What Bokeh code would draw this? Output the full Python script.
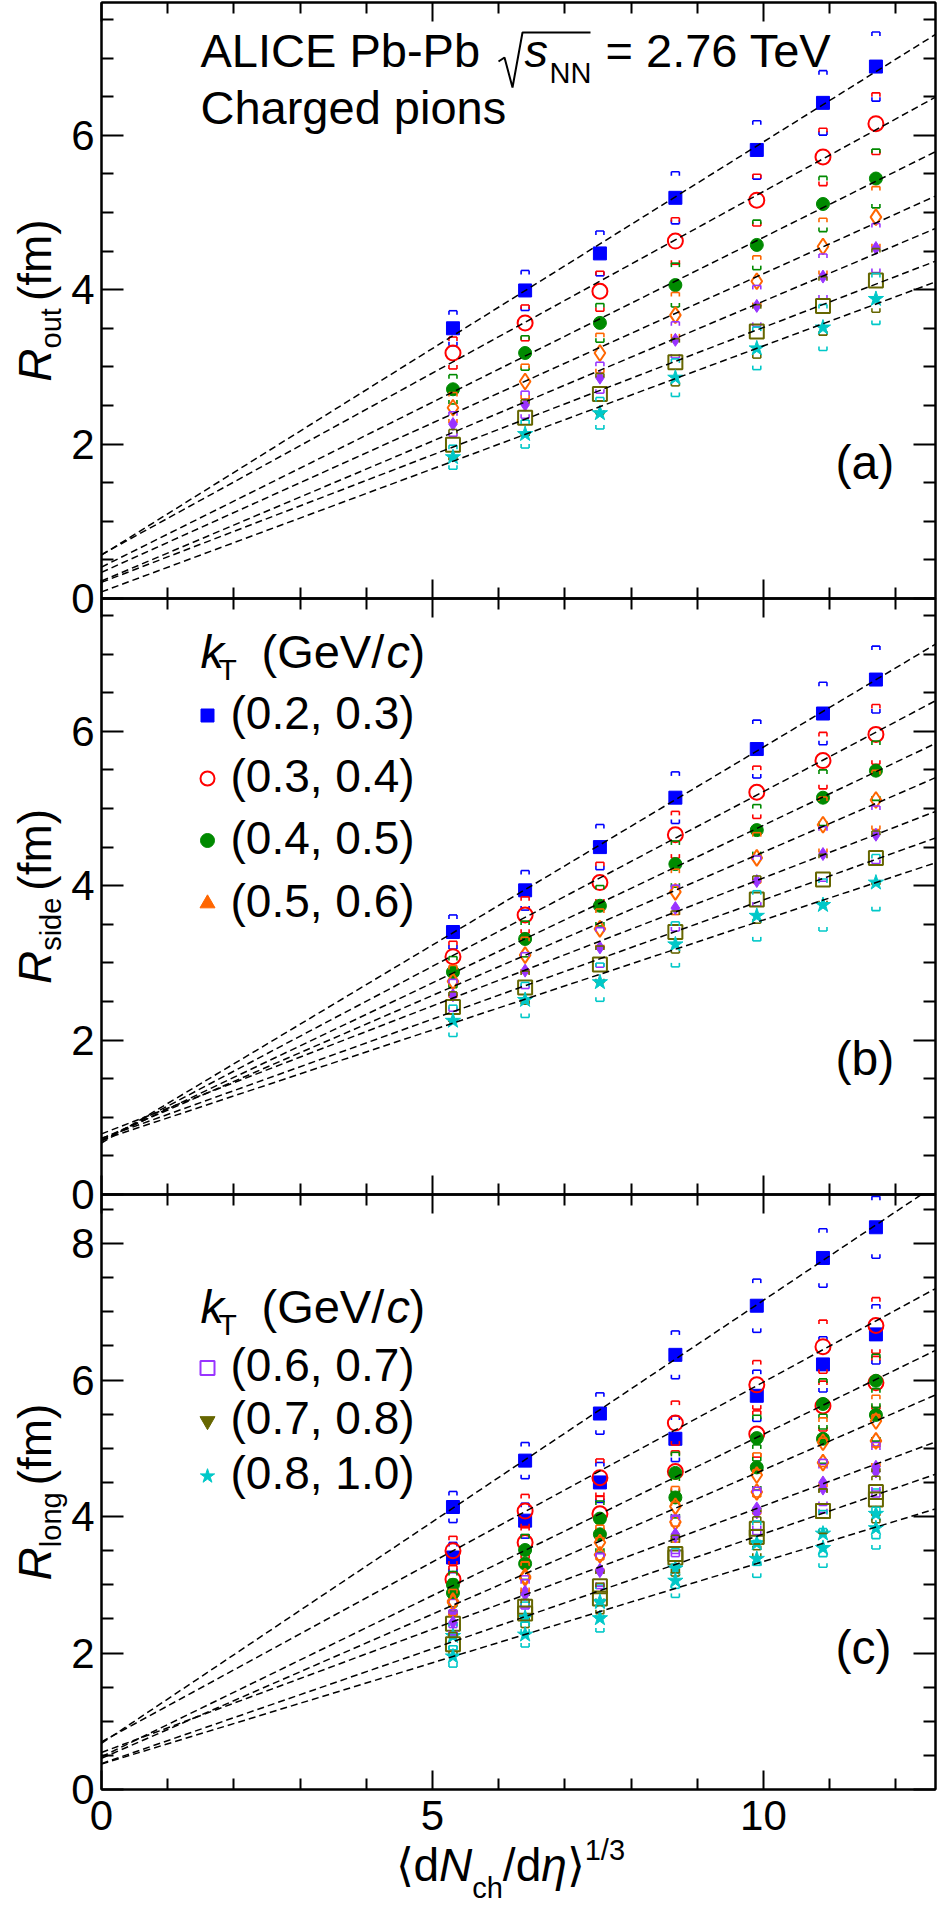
import numpy as np
from bokeh.plotting import figure
from bokeh.layouts import column, row
from bokeh.models import (Range1d, LinearAxis, FixedTicker, Label, ColumnDataSource,
                          CustomJSTickFormatter)
from bokeh.embed import file_html
from bokeh.resources import INLINE

# ---------------- data ----------------
dndeta_cuberoot = [5.31, 6.40, 7.53, 8.67, 9.90, 10.90, 11.70]
kt_bins = ["(0.2, 0.3)", "(0.3, 0.4)", "(0.4, 0.5)", "(0.5, 0.6)",
           "(0.6, 0.7)", "(0.7, 0.8)", "(0.8, 1.0)"]

r_out_kt1 = [3.50, 3.99, 4.47, 5.19, 5.81, 6.42, 6.89]
r_out_kt2 = [3.18, 3.57, 3.98, 4.63, 5.16, 5.72, 6.15]
r_out_kt3 = [2.71, 3.18, 3.57, 4.06, 4.58, 5.11, 5.44]
r_out_kt4 = [2.47, 2.81, 3.18, 3.67, 4.11, 4.56, 4.94]
r_out_kt5 = [2.26, 2.51, 2.86, 3.35, 3.79, 4.17, 4.54]
r_out_kt6 = [1.99, 2.34, 2.65, 3.06, 3.46, 3.79, 4.12]
r_out_kt7 = [1.83, 2.13, 2.40, 2.86, 3.24, 3.51, 3.88]

r_side_kt1 = [3.40, 3.94, 4.50, 5.14, 5.77, 6.23, 6.67]
r_side_kt2 = [3.08, 3.62, 4.04, 4.66, 5.21, 5.62, 5.96]
r_side_kt3 = [2.88, 3.31, 3.74, 4.28, 4.72, 5.14, 5.49]
r_side_kt4 = [2.76, 3.10, 3.44, 3.92, 4.36, 4.79, 5.11]
r_side_kt5 = [2.58, 2.90, 3.20, 3.71, 4.06, 4.41, 4.66]
r_side_kt6 = [2.43, 2.68, 2.98, 3.40, 3.82, 4.08, 4.36]
r_side_kt7 = [2.25, 2.52, 2.75, 3.24, 3.61, 3.75, 4.04]

r_long_kt1 = [4.14, 4.82, 5.51, 6.37, 7.09, 7.79, 8.24]
r_long_kt2 = [3.50, 4.08, 4.57, 5.37, 5.93, 6.49, 6.80]
r_long_kt3 = [3.00, 3.51, 3.97, 4.64, 5.15, 5.65, 5.99]
r_long_kt4 = [2.74, 3.12, 3.62, 4.15, 4.61, 5.09, 5.40]
r_long_kt5 = [2.45, 2.86, 3.22, 3.74, 4.12, 4.50, 4.73]
r_long_kt6 = [2.13, 2.58, 2.80, 3.45, 3.70, 4.08, 4.25]
r_long_kt7 = [1.95, 2.27, 2.51, 3.06, 3.38, 3.54, 3.83]

# relative systematic uncertainty per kT bin
sys_out = [0.065, 0.065, 0.070, 0.080, 0.070, 0.100, 0.085]
sys_side = [0.065, 0.065, 0.070, 0.075, 0.080, 0.080, 0.090]
sys_long = [0.055, 0.060, 0.065, 0.070, 0.075, 0.080, 0.080]

r_out = [r_out_kt1, r_out_kt2, r_out_kt3, r_out_kt4, r_out_kt5, r_out_kt6, r_out_kt7]
r_side = [r_side_kt1, r_side_kt2, r_side_kt3, r_side_kt4, r_side_kt5, r_side_kt6, r_side_kt7]
r_long = [r_long_kt1, r_long_kt2, r_long_kt3, r_long_kt4, r_long_kt5, r_long_kt6, r_long_kt7]

# ---------------- styles ----------------
FONT = "Liberation Sans"
XMAX = 12.6
FW = 834
SW = 68           # width of the strip that carries the y titles
BL = 30           # left border of the panels (SW + BL = 98)
K_FLAT = 0.42     # measured baseline correction of the svg text (em)
K_ROT = 0.20
STYLES = [
    dict(marker="square", color="#0000ff", fill=True, size=13),
    dict(marker="circle", color="#ff0000", fill=False, size=15),
    dict(marker="circle", color="#008a00", fill=True, size=13),
    dict(marker="diamond", color="#ff6600", fill=False, size=16),
    dict(marker="diamond", color="#9933ff", fill=True, size=13),
    dict(marker="square", color="#666600", fill=False, size=14),
    dict(marker="star", color="#00c8c8", fill=True, size=16),
]

WID = {' ': .278, '(': .333, ')': .333, ',': .278, '.': .278, '-': .333, '/': .278, '=': .584,
       'A': .667, 'C': .722, 'E': .667, 'G': .778, 'I': .278, 'L': .556, 'N': .722, 'P': .667,
       'R': .722, 'T': .611, 'V': .667, 'a': .556, 'b': .556, 'c': .5, 'd': .556, 'e': .556,
       'f': .278, 'g': .556, 'h': .556, 'i': .222, 'k': .5, 'l': .222, 'm': .833, 'n': .556,
       'o': .556, 'p': .556, 'r': .333, 's': .5, 't': .278, 'u': .556, 'η': .556,
       '⟨': .39, '⟩': .39}


def tw(s, size):
    return sum(WID.get(ch, 0.556) for ch in s) * size


def label(p, x, y, text, size, style="normal", angle=0.0):
    """Text with its baseline at pixel (x, y) of the figure's frame (y downwards)."""
    if angle == 0.0:
        y = y - K_FLAT * size
    else:
        x = x - K_ROT * size
    p.add_layout(Label(x=x, y=y, x_range_name="px", y_range_name="px", text=text,
                       text_font=FONT, text_font_size=f"{size}px", text_font_style=style,
                       text_color="black", text_align="left", text_baseline="alphabetic",
                       angle=angle))


def add_axis(p, side, ticks, minor, tin, minin, labeled, standoff=7):
    ax = LinearAxis(ticker=FixedTicker(ticks=ticks, minor_ticks=minor),
                    axis_line_color="black", axis_line_width=2,
                    major_tick_in=tin, major_tick_out=0, minor_tick_in=minin, minor_tick_out=0,
                    major_tick_line_color="black", major_tick_line_width=2,
                    minor_tick_line_color="black", minor_tick_line_width=2)
    if labeled:
        ax.major_label_text_font = FONT
        ax.major_label_text_font_size = "42px"
        ax.major_label_text_color = "black"
        ax.major_label_standoff = standoff
    else:
        ax.formatter = CustomJSTickFormatter(code="return ''")
        ax.major_label_text_font_size = "1px"
        ax.major_label_standoff = 0
    p.add_layout(ax, side)


def blank(fw, fh, bl=0):
    p = figure(x_range=Range1d(0, fw), y_range=Range1d(fh, 0),
               frame_width=fw, frame_height=fh, x_axis_type=None, y_axis_type=None,
               tools="", toolbar_location=None, output_backend="svg",
               min_border=0, min_border_left=bl, background_fill_color=None,
               border_fill_color=None, outline_line_color=None, align="start")
    p.extra_x_ranges = {"px": Range1d(0, fw)}
    p.extra_y_ranges = {"px": Range1d(fh, 0)}
    return p


def make_panel(ymax, fh, bt, bb, yticks, yminor, x_labeled):
    p = figure(x_range=Range1d(0, XMAX), y_range=Range1d(0, ymax),
               frame_width=FW, frame_height=fh, x_axis_type=None, y_axis_type=None,
               tools="", toolbar_location=None, output_backend="svg",
               min_border_left=BL, min_border_right=2, min_border_top=bt, min_border_bottom=bb,
               background_fill_color=None, border_fill_color=None,
               outline_line_color="black", outline_line_width=2, align="start")
    p.extra_x_ranges = {"px": Range1d(0, FW)}
    p.extra_y_ranges = {"px": Range1d(fh, 0)}
    xt = [0, 5, 10]
    xm = [1, 2, 3, 4, 6, 7, 8, 9, 11, 12]
    add_axis(p, "left", yticks, yminor, 22, 12, True, 7)
    add_axis(p, "right", yticks, yminor, 22, 12, False)
    add_axis(p, "above", xt, xm, 19, 11, False)
    add_axis(p, "below", xt, xm, 19, 11, x_labeled, 11)
    return p


def draw_series(p, vals, frac, st, fh, ymax, fit=True):
    xs = dndeta_cuberoot
    c = st["color"]
    src = ColumnDataSource(dict(x=xs, y=vals))
    p.scatter("x", "y", source=src, marker=st["marker"], size=st["size"],
              fill_color=c if st["fill"] else None, line_color=c,
              line_width=1 if st["fill"] else 2)
    # ROOT-style "[]" systematic brackets (only the end caps)
    dx = 4.0 * XMAX / FW           # half width 4 px
    dy = 4.0 * ymax / fh           # tick length 4 px
    x0, x1, y0, y1 = [], [], [], []
    for xv, v in zip(xs, vals):
        for sgn in (1, -1):
            yb = v * (1 + sgn * frac)
            yt = yb - sgn * dy
            x0 += [xv - dx, xv - dx, xv + dx]
            x1 += [xv + dx, xv - dx, xv + dx]
            y0 += [yb, yb, yb]
            y1 += [yb, yt, yt]
    p.segment(x0, y0, x1, y1, line_color=c, line_width=1.6)
    if fit:
        slope, icpt = np.polyfit(xs, vals, 1)
        return [0, XMAX], [icpt, icpt + slope * XMAX]
    return None


def draw_fits(p, fits):
    for f in fits:
        if f is not None:
            p.line(f[0], f[1], line_color="black", line_width=1.5, line_dash="7 4")


yt_ab = [0, 2, 4, 6]
ym_ab = [0.5, 1, 1.5, 2.5, 3, 3.5, 4.5, 5, 5.5, 6.5, 7, 7.5]
yt_c = [0, 2, 4, 6, 8]
ym_c = [0.5, 1, 1.5, 2.5, 3, 3.5, 4.5, 5, 5.5, 6.5, 7, 7.5, 8.5]

FHA, FHB, FHC = 596, 596, 595
YA, YB, YC = 7.72, 7.72, 8.72
BT_A, BB, BB_C = 2, 30, 62
OVL = 2 * BB
XS_H, XS_OVL = 100, 47

# ---------------- panel (a): R_out ----------------
pa = make_panel(YA, FHA, BT_A, BB, yt_ab, ym_ab, False)
fits = [draw_series(pa, r_out[k], sys_out[k], STYLES[k], FHA, YA) for k in range(7)]
draw_fits(pa, fits)
label(pa, 99, 68, "ALICE Pb-Pb", 47)
pa.line([397, 403, 411, 421, 489], [59, 55, 85, 30, 30], x_range_name="px", y_range_name="px",
        line_color="black", line_width=2)
label(pa, 423, 68, "s", 47, "italic")
label(pa, 448, 83, "NN", 29)
label(pa, 504, 68, "= 2.76 TeV", 47)
label(pa, 99, 125, "Charged pions", 47)
label(pa, 734, FHA - 116, "(a)", 48)

# ---------------- panel (b): R_side ----------------
pb = make_panel(YB, FHB, BB, BB, yt_ab, ym_ab, False)
fits = [draw_series(pb, r_side[k], sys_side[k], STYLES[k], FHB, YB) for k in range(7)]
draw_fits(pb, fits)
label(pb, 734, FHB - 116, "(b)", 48)


def legend_title(p, ybase):
    label(p, 99, ybase, "k", 47, "italic")
    label(p, 117, ybase + 11, "T", 30)
    label(p, 160, ybase, "(GeV/", 47)
    label(p, 285, ybase, "c", 47, "italic")
    label(p, 308, ybase, ")", 47)


legend_title(pb, 73)
leg_b = [
    dict(marker="square", color="#0000ff", fill=True, size=13),
    dict(marker="circle", color="#ff0000", fill=False, size=14),
    dict(marker="circle", color="#008a00", fill=True, size=14),
    dict(marker="triangle", color="#ff6600", fill=True, size=15),
]
for i, (st, rw) in enumerate(zip(leg_b, [117, 180, 242, 305])):
    pb.scatter([106], [rw], x_range_name="px", y_range_name="px", marker=st["marker"],
               size=st["size"], fill_color=st["color"] if st["fill"] else None,
               line_color=st["color"], line_width=1 if st["fill"] else 2)
    label(pb, 129, rw + 16.5, kt_bins[i], 46)

# ---------------- panel (c): R_long ----------------
pc = make_panel(YC, FHC, BB, BB_C, yt_c, ym_c, True)
for k in range(7):
    draw_series(pc, r_side[k], sys_side[k], STYLES[k], FHC, YC, fit=False)
fits = [draw_series(pc, r_long[k], sys_long[k], STYLES[k], FHC, YC) for k in range(7)]
draw_fits(pc, fits)
label(pc, 734, FHC - 122, "(c)", 48)
legend_title(pc, 132)
leg_c = [
    dict(marker="square", color="#9933ff", fill=False, size=14),
    dict(marker="inverted_triangle", color="#666600", fill=True, size=15),
    dict(marker="star", color="#00c8c8", fill=True, size=15),
]
for i, (st, rw) in enumerate(zip(leg_c, [173.5, 226.5, 281.7])):
    pc.scatter([106], [rw], x_range_name="px", y_range_name="px", marker=st["marker"],
               size=st["size"], fill_color=st["color"] if st["fill"] else None,
               line_color=st["color"], line_width=1 if st["fill"] else 2)
    label(pc, 129, rw + 16.5, kt_bins[4 + i], 46)

# ---------------- strip below panel (c): x-axis title ----------------
xs_fig = blank(FW, XS_H, BL)
xt_pieces = [("⟨", 46, "normal", 0, 0), ("d", 46, "normal", 0, 0), ("N", 46, "italic", 0, 0),
             ("ch", 29, "normal", 16, 0), ("/d", 46, "normal", 0, 0), ("η", 46, "italic", 0, 0),
             ("⟩", 46, "normal", 0, 0), ("1/3", 29, "normal", -22, 0)]
adv = 0.0
for text, size, style, dy, gap in xt_pieces:
    label(xs_fig, 294 + adv, 80 + dy, text, size, style)
    adv += tw(text, size) + gap

# ---------------- strip left of the panels: y-axis titles ----------------
H_A = BT_A + FHA + BB
H_B = BB + FHB + BB
H_C = BB + FHC + BB_C
H_TOT = H_A + H_B + H_C - 2 * OVL + XS_H - XS_OVL
ys_fig = blank(SW, H_TOT)
top_a = BT_A
top_b = top_a + FHA
top_c = top_b + FHB
for top, fh, sub in [(top_a, FHA, "out"), (top_b, FHB, "side"), (top_c, FHC, "long")]:
    pieces = [("R", 46, "italic", 0, 0), (sub, 29, "normal", 12, 7), ("(fm)", 46, "normal", 0, 0)]
    L = sum(tw(t, s) + g for t, s, _, _, g in pieces)
    adv = 0.0
    y0 = top + fh / 2 + L / 2
    for text, size, style, dy, gap in pieces:
        label(ys_fig, 44 + dy, y0 - adv, text, size, style, angle=np.pi / 2)
        adv += tw(text, size) + gap

pb.margin = (-OVL, 0, 0, 0)
pc.margin = (-OVL, 0, 0, 0)
xs_fig.margin = (-XS_OVL, 0, 0, 0)
panels = column(pa, pb, pc, xs_fig, align="start")
layout = row(ys_fig, panels, align="start")

open("out.html", "w").write(file_html(layout, INLINE, title="ALICE HBT radii"))
